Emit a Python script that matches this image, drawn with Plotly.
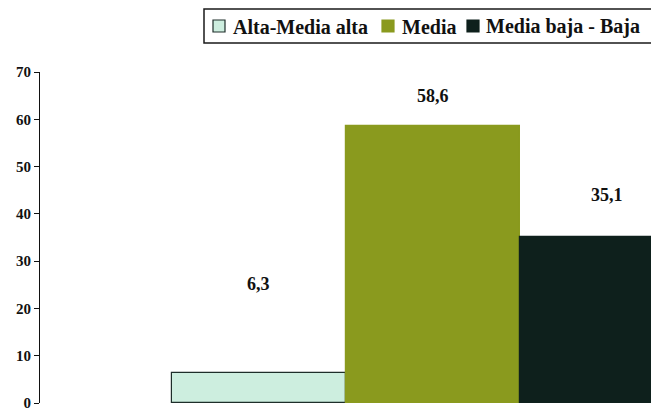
import plotly.graph_objects as go

# Socio-economic level shares (%)
categories = ["Alta-Media alta", "Media", "Media baja - Baja"]
values = [6.3, 58.6, 35.1]
value_labels = ["6,3", "58,6", "35,1"]
y_ticks = [0, 10, 20, 30, 40, 50, 60, 70]

colors = ["#CDEEDF", "#8A9A1E", "#0E201C"]
outlines = ["#1E2E2A", "#8A9A1E", "#0E201C"]
# vertical gap (px) between the top of each bar and its value label
label_gap = [77, 18, 30]

serif = "Liberation Serif"
W, H = 651, 410
M = dict(l=40, r=0, t=72, b=7)
plot_w = W - M["l"] - M["r"]
plot_h = H - M["t"] - M["b"]


def px_x(px):
    """Horizontal pixel -> paper coordinate."""
    return (px - M["l"]) / plot_w


def px_y(py):
    """Vertical pixel (from top) -> paper coordinate."""
    return (H - M["b"] - py) / plot_h


fig = go.Figure()
for i, (name, v) in enumerate(zip(categories, values)):
    fig.add_trace(go.Bar(
        x=[i], y=[v], name=name, width=1.0,
        marker=dict(color=colors[i], line=dict(color=outlines[i], width=1.2)),
        showlegend=False,
    ))

annotations = []
for i, (v, lab) in enumerate(zip(values, value_labels)):
    annotations.append(dict(
        x=i, y=v, xref="x", yref="y", text=f"<b>{lab}</b>", showarrow=False,
        yanchor="bottom", yshift=label_gap[i],
        font=dict(family=serif, size=18, color="#111"),
    ))

# Boxed legend along the top edge
shapes = [dict(type="rect", xref="paper", yref="paper",
               x0=px_x(204), x1=px_x(660), y0=px_y(43), y1=px_y(9),
               line=dict(color="#1a1a1a", width=1.5), fillcolor="white", layer="above")]
legend_sym_x = [213, 382, 467]
legend_txt_x = [231, 400, 484]
for i, name in enumerate(categories):
    shapes.append(dict(type="rect", xref="paper", yref="paper",
                       x0=px_x(legend_sym_x[i]), x1=px_x(legend_sym_x[i] + 12),
                       y0=px_y(32), y1=px_y(20),
                       line=dict(color=outlines[i] if i == 0 else colors[i], width=1.2),
                       fillcolor=colors[i], layer="above"))
    annotations.append(dict(
        x=px_x(legend_txt_x[i]), y=px_y(26.5), xref="paper", yref="paper",
        xanchor="left", yanchor="middle", showarrow=False, text=f"<b>{name}</b>",
        font=dict(family=serif, size=20, color="#111"),
    ))

fig.update_layout(
    width=W, height=H,
    margin=M,
    paper_bgcolor="white", plot_bgcolor="white",
    barmode="overlay", bargap=0,
    annotations=annotations,
    shapes=shapes,
    showlegend=False,
    xaxis=dict(range=[-1.2586, 2.253], showticklabels=False, showline=False,
               showgrid=False, zeroline=False, ticks=""),
    yaxis=dict(range=[0, 70], tickvals=y_ticks, showline=True, linecolor="#111",
               linewidth=1.2, ticks="outside", ticklen=5, tickcolor="#111",
               showgrid=False, zeroline=False, ticklabeloverflow="allow",
               tickfont=dict(family=serif, size=15, color="#111", weight="bold")),
)

fig.write_html("out.html")
